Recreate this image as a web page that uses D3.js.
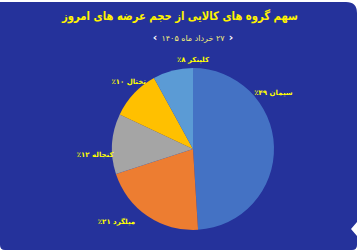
<!DOCTYPE html>
<html>
<head>
<meta charset="utf-8">
<script src="https://cdn.jsdelivr.net/npm/d3@7"></script>
<style>
  body { margin: 0; background: #ffffff; }
  svg { display: block; }
  text { font-family: "DejaVu Sans", sans-serif; }
</style>
</head>
<body>
<script>
const categories = ["سیمان", "میلگرد", "کنجاله", "تختال", "کلینکر"];
const shares = [49, 21, 12, 10, 8];
const shareLabels = ["۴۹٪", "۲۱٪", "۱۲٪", "۱۰٪", "۸٪"];
const colors = ["#4472c4", "#ed7d31", "#a5a5a5", "#ffc000", "#5b9bd5"];
const title = "سهم گروه های کالایی از حجم عرضه های امروز";
const subtitle = "۲۷ خرداد ماه ۱۴۰۵";

const width = 360, height = 252;
const cx = 193, cy = 149, radius = 81;

const data = categories.map((c, i) => ({ name: c, value: shares[i], label: shareLabels[i], color: colors[i] }));

const svg = d3.select("body").append("svg")
    .attr("width", width)
    .attr("height", height);

// card background with notch on the right
const bg = d3.path();
bg.moveTo(0, 2);
bg.lineTo(346, 2);
bg.quadraticCurveTo(357, 2, 357, 13);
bg.lineTo(357, 222);
bg.lineTo(351, 229);
bg.lineTo(357, 236);
bg.lineTo(357, 245);
bg.quadraticCurveTo(357, 250, 352, 250);
bg.lineTo(5, 250);
bg.quadraticCurveTo(0, 250, 0, 245);
bg.closePath();

svg.append("path")
    .attr("d", bg.toString())
    .attr("fill", "#25329b");

svg.append("text")
    .attr("x", 180)
    .attr("y", 16)
    .attr("text-anchor", "middle")
    .attr("dominant-baseline", "middle")
    .attr("direction", "rtl")
    .attr("font-size", 12)
    .attr("font-weight", "bold")
    .attr("textLength", 236)
    .attr("lengthAdjust", "spacingAndGlyphs")
    .attr("fill", "#fff200")
    .text(title);

svg.append("text")
    .attr("x", 193)
    .attr("y", 38)
    .attr("text-anchor", "middle")
    .attr("dominant-baseline", "middle")
    .attr("direction", "rtl")
    .attr("font-size", 8)
    .attr("fill", "#f3ee7a")
    .text(subtitle);

svg.selectAll("text.chev")
    .data([["‹", 155], ["›", 231]])
    .enter().append("text")
    .attr("class", "chev")
    .attr("x", d => d[1])
    .attr("y", 38)
    .attr("text-anchor", "middle")
    .attr("dominant-baseline", "middle")
    .attr("font-size", 11)
    .attr("font-weight", "bold")
    .attr("fill", "#ffffff")
    .text(d => d[0]);

const pie = d3.pie()
    .value(d => d.value)
    .sort(null);

const arc = d3.arc()
    .innerRadius(0)
    .outerRadius(radius);

const arcs = pie(data);

const g = svg.append("g")
    .attr("transform", "translate(" + cx + "," + cy + ")");

g.selectAll("path.slice")
    .data(arcs)
    .enter().append("path")
    .attr("class", "slice")
    .attr("d", arc)
    .attr("fill", d => d.data.color);

// label placement: nudge from the slice middle, like the original best-fit layout
const nudge = { "سیمان": [-33, 98], "میلگرد": [12, 106], "کنجاله": [-7, 98], "تختال": [3, 93], "کلینکر": [14.4, 89] };

g.selectAll("text.lbl")
    .data(arcs)
    .enter().append("text")
    .attr("class", "lbl")
    .attr("transform", d => {
        const n = nudge[d.data.name];
        const a = (d.startAngle + d.endAngle) / 2 + n[0] * Math.PI / 180;
        return "translate(" + (n[1] * Math.sin(a)) + "," + (-n[1] * Math.cos(a)) + ")";
    })
    .attr("text-anchor", "middle")
    .attr("dominant-baseline", "middle")
    .attr("direction", "rtl")
    .attr("font-size", 7)
    .attr("font-weight", "bold")
    .attr("fill", "#ffff00")
    .text(d => d.data.name + " " + d.data.label);
</script>
</body>
</html>
